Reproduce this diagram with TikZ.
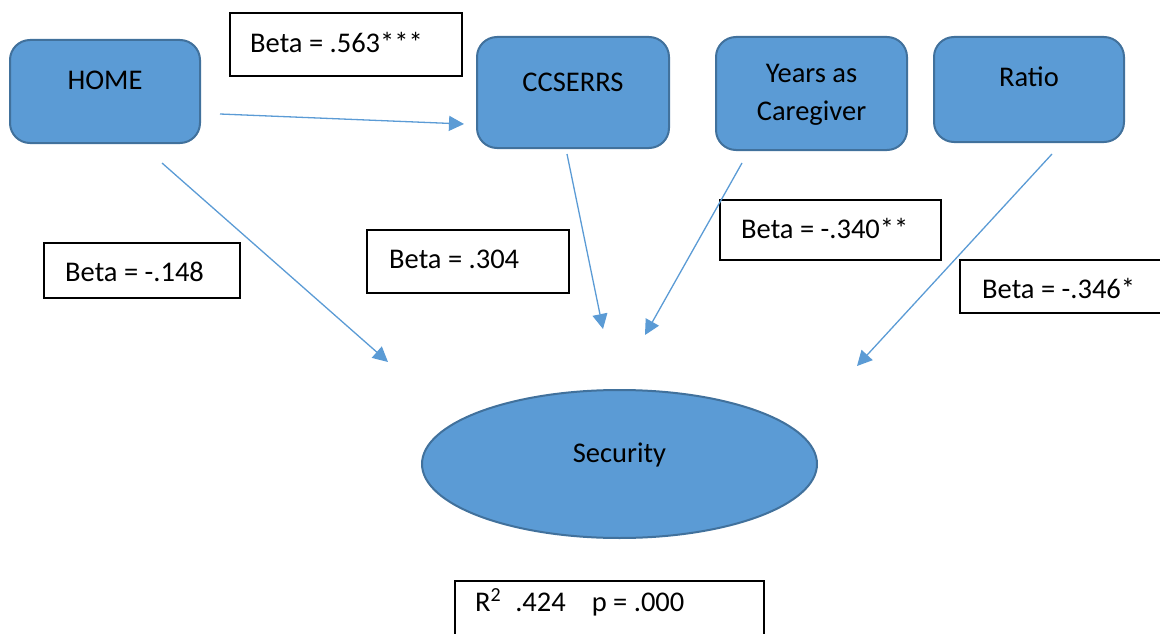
\documentclass[tikz,border=0pt]{standalone}
\usepackage{fontspec}
\setmainfont{Carlito}
\usetikzlibrary{arrows.meta,shapes.geometric}
\definecolor{boxfill}{RGB}{91,155,213}
\definecolor{boxline}{RGB}{65,113,156}
\definecolor{arr}{RGB}{91,155,213}
\begin{document}
\begin{tikzpicture}[x=1pt,y=-1pt,
  font=\fontsize{28.5}{37}\selectfont,
  var/.style={draw=boxline,line width=2pt,fill=boxfill,rounded corners=20pt,inner sep=0pt},
  lab/.style={draw=black,line width=1.5pt,fill=white,inner sep=0pt},
  txt/.style={inner sep=0pt,anchor=base},
  path/.style={draw=arr,line width=1.3pt,-{Triangle[length=15pt,width=15pt]}}]
\useasboundingbox (0,0) rectangle (1160,634);
% variable boxes
\node[var,minimum width=190pt,minimum height=103pt] (home) at (105,91.5) {};
\node[txt] (homeT) at (105,90) {HOME};
\node[var,minimum width=192pt,minimum height=111pt] (cc) at (573,92.5) {};
\node[txt] (ccT) at (573,92) {CCSERRS};
\node[var,minimum width=191pt,minimum height=113pt] (yrs) at (811.5,93.5) {};
\node[txt] (yrsT1) at (811.5,83) {Years as};
\node[txt] (yrsT2) at (811.5,121) {Caregiver};
\node[var,minimum width=190pt,minimum height=105pt] (ratio) at (1029,89.5) {};
\node[txt] (ratioT) at (1029,87) {Ratio};
% outcome
\node[draw=boxline,line width=2pt,fill=boxfill,ellipse,minimum width=395pt,minimum height=148pt,inner sep=0pt] (sec) at (619.5,464) {};
\node[txt] (secT) at (619.5,462) {Security};
% label boxes
\node[lab,minimum width=232pt,minimum height=63pt] (b1) at (346,44.5) {};
\node[txt,anchor=base west] (b1T) at (250,53) {Beta = .563***};
\node[lab,minimum width=196pt,minimum height=55pt] (b2) at (142,270.5) {};
\node[txt,anchor=base west] (b2T) at (65,281) {Beta = -.148};
\node[lab,minimum width=202pt,minimum height=63pt] (b3) at (468,261.5) {};
\node[txt,anchor=base west] (b3T) at (389,268) {Beta = .304};
\node[lab,minimum width=221pt,minimum height=60pt] (b4) at (830.5,230) {};
\node[txt,anchor=base west] (b4T) at (741,238) {Beta = -.340**};
\node[lab,minimum width=220pt,minimum height=53pt] (b5) at (1070,286.5) {};
\node[txt,anchor=base west] (b5T) at (982,298) {Beta = -.346*};
\node[lab,minimum width=309pt,minimum height=80pt] (r2) at (609.5,621) {};
\node[txt,anchor=base west] (r2T) at (475,611) {R\textsuperscript{2}\hspace{14pt}.424\hspace{26pt}p = .000};
% connector ends
\coordinate (h1) at (220,114);
\coordinate (c1) at (464,124);
\coordinate (h2) at (162,163);
\coordinate (s1) at (388,362);
\coordinate (c2) at (567,154);
\coordinate (s2) at (603,329);
\coordinate (y2) at (742,163);
\coordinate (s3) at (645,335);
\coordinate (r1) at (1052,154);
\coordinate (s4) at (857,366);
\draw[path] (h1) -- (c1);
\draw[path] (h2) -- (s1);
\draw[path] (c2) -- (s2);
\draw[path] (y2) -- (s3);
\draw[path] (r1) -- (s4);
\end{tikzpicture}
\end{document}
